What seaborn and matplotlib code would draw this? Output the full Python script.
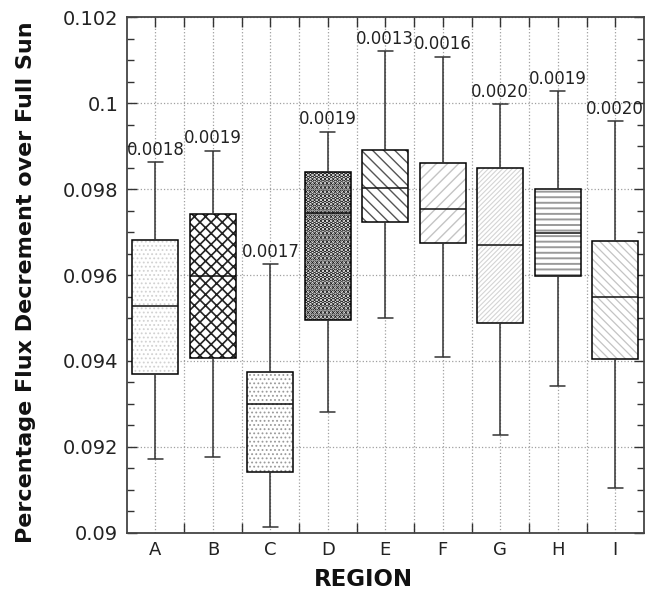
import numpy as np
import pandas as pd
import matplotlib
matplotlib.use("Agg")
import matplotlib.pyplot as plt
import seaborn as sns
from matplotlib.colors import to_rgba
from matplotlib.ticker import FixedLocator, FuncFormatter

# ---- data ----
regions = ["A", "B", "C", "D", "E", "F", "G", "H", "I"]
whisker_low = [0.09173, 0.09176, 0.09013, 0.09281, 0.09501, 0.09410, 0.09227, 0.09341, 0.09104]
q1 = [0.09369, 0.09407, 0.09143, 0.09495, 0.09723, 0.09675, 0.09489, 0.09598, 0.09405]
median = [0.09529, 0.09597, 0.09299, 0.09745, 0.09802, 0.09753, 0.09669, 0.09697, 0.09550]
q3 = [0.09681, 0.09742, 0.09374, 0.09840, 0.09891, 0.09861, 0.09850, 0.09799, 0.09679]
whisker_high = [0.09862, 0.09889, 0.09625, 0.09933, 0.10121, 0.10108, 0.09997, 0.10028, 0.09958]
std_labels = ["0.0018", "0.0019", "0.0017", "0.0019", "0.0013", "0.0016", "0.0020", "0.0019", "0.0020"]
y_ticks = [0.090, 0.092, 0.094, 0.096, 0.098, 0.100, 0.102]
y_tick_labels = ["0.09", "0.092", "0.094", "0.096", "0.098", "0.1", "0.102"]

# five summary points per region -> quartiles reproduce exactly with linear percentiles
rows = []
for r, a, b, c, d, e in zip(regions, whisker_low, q1, median, q3, whisker_high):
    for v in (a, b, c, d, e):
        rows.append({"REGION": r, "value": v})
df = pd.DataFrame(rows)

hatches = ["....", "xxx", "....", "....", "\\\\\\", "///", "///////", "---", "\\\\\\\\"]
hatch_colors = ["#d2d2d2", "#222222", "#9a9a9a", "#111111", "#555555", "#c4c4c4", "#d4d4d4", "#9a9a9a", "#c4c4c4"]
hatch_lws = [0.8, 1.2, 0.8, 2.4, 1.0, 1.0, 0.8, 1.4, 0.9]

sns.set_theme(style="white")
plt.rcParams["font.family"] = ["DejaVu Sans"]

fig = plt.figure(figsize=(6.52, 5.93), dpi=100)
ax = fig.add_axes([0.1943, 0.1012, 0.7934, 0.8701])

sns.boxplot(
    data=df, x="REGION", y="value", order=regions, ax=ax,
    whis=np.inf, width=0.8, capwidths=0.26, color="white", linecolor="black",
    linewidth=1.1, saturation=1,
    whiskerprops=dict(color="#333333", linewidth=1.1),
    capprops=dict(color="#333333", linewidth=1.1),
    medianprops=dict(color="#111111", linewidth=1.1),
)

for p, h, hc, hl in zip(ax.patches, hatches, hatch_colors, hatch_lws):
    p.set_facecolor("white")
    p.set_edgecolor("black")
    p.set_hatch(h)
    if hasattr(p, "set_hatchcolor"):
        p.set_hatchcolor(hc)
    else:
        p._hatch_color = to_rgba(hc)
    if hasattr(p, "set_hatch_linewidth"):
        p.set_hatch_linewidth(hl)
    else:
        p._hatch_linewidth = hl
    p.set_zorder(2)

for i, (txt, top) in enumerate(zip(std_labels, whisker_high)):
    ax.annotate(txt, xy=(i, top), xytext=(0, 2.5), textcoords="offset points",
                ha="center", va="bottom", fontsize=12, color="#222222")

ax.set_xlim(-0.5, len(regions) - 0.5)
ax.set_ylim(0.09, 0.102)

ax.yaxis.set_major_locator(FixedLocator(y_ticks))
ax.yaxis.set_major_formatter(FuncFormatter(lambda v, pos: y_tick_labels[pos] if pos is not None and pos < len(y_tick_labels) else ""))
ax.yaxis.set_minor_locator(FixedLocator(np.arange(0.090, 0.10201, 0.0005)))
ax.xaxis.set_minor_locator(FixedLocator(np.arange(0.5, len(regions) - 0.5, 1.0)))

ax.tick_params(axis="y", which="major", direction="in", length=7, width=1, left=True, right=True,
               labelsize=14, colors="#333333", labelcolor="#222222", pad=6)
ax.tick_params(axis="y", which="minor", direction="in", length=5, width=1, left=True, right=True, colors="#333333")
ax.tick_params(axis="x", which="major", direction="in", length=7, width=1, bottom=False, top=True,
               labelsize=13, colors="#333333", labelcolor="#222222", pad=6)
ax.tick_params(axis="x", which="minor", direction="in", length=7, width=1, bottom=True, top=True, colors="#333333")

ax.grid(True, which="major", axis="both", linestyle=":", color="#a0a0a0", linewidth=0.9)
ax.grid(True, which="minor", axis="x", linestyle=":", color="#a0a0a0", linewidth=0.9)
ax.set_axisbelow(True)

for s in ax.spines.values():
    s.set_visible(True)
    s.set_color("#444444")
    s.set_linewidth(1.3)

ax.set_xlabel("REGION", fontsize=16.5, fontweight="bold", color="#111111")
ax.set_ylabel("Percentage Flux Decrement over Full Sun", fontsize=16, fontweight="bold", color="#111111")
ax.xaxis.set_label_coords(0.457, -0.068)
ax.yaxis.set_label_coords(-0.176, 0.486)

fig.savefig("out.png", dpi=100, facecolor="white")
